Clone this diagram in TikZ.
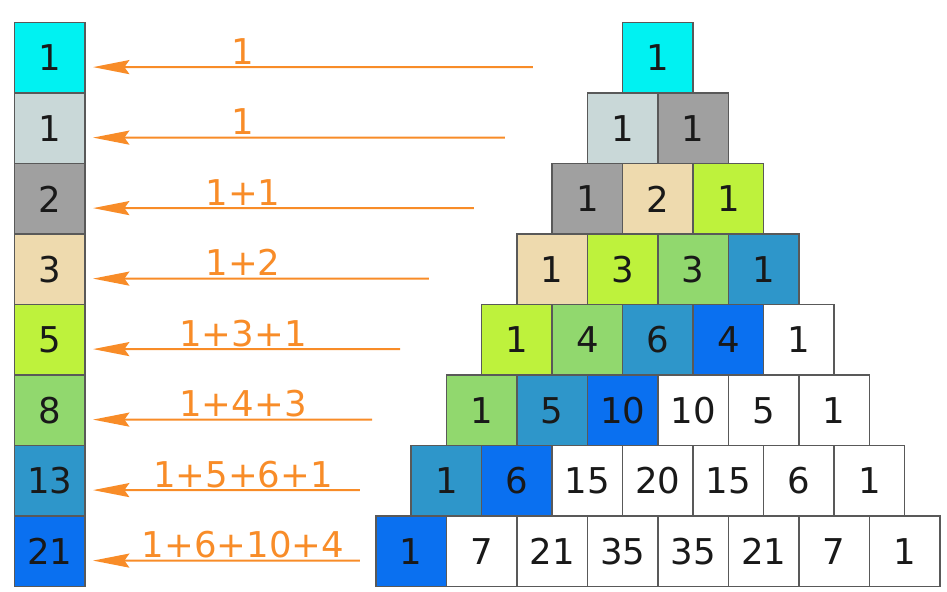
\documentclass[tikz,border=0pt]{standalone}
\usepackage{fontspec}
\setmainfont{DejaVu Sans}
\usepackage{xcolor}
\usepackage{tikz}
\usetikzlibrary{arrows.meta}
\usetikzlibrary{calc}

\definecolor{aqua}{RGB}{0,242,242}
\definecolor{silver}{RGB}{201,216,216}
\definecolor{greybox}{RGB}{160,160,160}
\definecolor{wheat}{RGB}{238,218,174}
\definecolor{lime}{RGB}{190,242,60}
\definecolor{leaf}{RGB}{145,216,110}
\definecolor{steel}{RGB}{46,150,202}
\definecolor{azure}{RGB}{10,112,240}
\definecolor{sumorange}{RGB}{248,140,40}

\begin{document}
\begin{tikzpicture}[x=1.5cm, y=1.5cm,
    cell/.style={draw=black!65, line width=0.9pt, minimum size=1.5cm, inner sep=0pt,
      text=black!90, font=\fontsize{21.5}{24}\selectfont},
    sumarrow/.style={draw=sumorange, line width=1.2pt, -{Stealth[length=22pt, width=8.5pt, inset=3pt]}},
    sumlabel/.style={text=sumorange, anchor=base, inner sep=0pt, font=\fontsize{21.5}{24}\selectfont}]
    \useasboundingbox (0,0) rectangle (13.433,-8.397);

    % Fibonacci column
    \node[cell, fill=aqua] (F1) at (0.709,-0.822) {1};
    \node[cell, fill=silver] (F2) at (0.709,-1.822) {1};
    \node[cell, fill=greybox] (F3) at (0.709,-2.822) {2};
    \node[cell, fill=wheat] (F4) at (0.709,-3.822) {3};
    \node[cell, fill=lime] (F5) at (0.709,-4.822) {5};
    \node[cell, fill=leaf] (F6) at (0.709,-5.822) {8};
    \node[cell, fill=steel] (F7) at (0.709,-6.822) {13};
    \node[cell, fill=azure] (F8) at (0.709,-7.822) {21};

    % Pascal triangle
    \node[cell, fill=aqua] (P11) at (9.333,-0.822) {1};

    \node[cell, fill=silver] (P21) at (8.833,-1.822) {1};
    \node[cell, fill=greybox] (P22) at (9.833,-1.822) {1};

    \node[cell, fill=greybox] (P31) at (8.333,-2.822) {1};
    \node[cell, fill=wheat] (P32) at (9.333,-2.822) {2};
    \node[cell, fill=lime] (P33) at (10.333,-2.822) {1};

    \node[cell, fill=wheat] (P41) at (7.833,-3.822) {1};
    \node[cell, fill=lime] (P42) at (8.833,-3.822) {3};
    \node[cell, fill=leaf] (P43) at (9.833,-3.822) {3};
    \node[cell, fill=steel] (P44) at (10.833,-3.822) {1};

    \node[cell, fill=lime] (P51) at (7.333,-4.822) {1};
    \node[cell, fill=leaf] (P52) at (8.333,-4.822) {4};
    \node[cell, fill=steel] (P53) at (9.333,-4.822) {6};
    \node[cell, fill=azure] (P54) at (10.333,-4.822) {4};
    \node[cell, fill=white] (P55) at (11.333,-4.822) {1};

    \node[cell, fill=leaf] (P61) at (6.833,-5.822) {1};
    \node[cell, fill=steel] (P62) at (7.833,-5.822) {5};
    \node[cell, fill=azure] (P63) at (8.833,-5.822) {10};
    \node[cell, fill=white] (P64) at (9.833,-5.822) {10};
    \node[cell, fill=white] (P65) at (10.833,-5.822) {5};
    \node[cell, fill=white] (P66) at (11.833,-5.822) {1};

    \node[cell, fill=steel] (P71) at (6.333,-6.822) {1};
    \node[cell, fill=azure] (P72) at (7.333,-6.822) {6};
    \node[cell, fill=white] (P73) at (8.333,-6.822) {15};
    \node[cell, fill=white] (P74) at (9.333,-6.822) {20};
    \node[cell, fill=white] (P75) at (10.333,-6.822) {15};
    \node[cell, fill=white] (P76) at (11.333,-6.822) {6};
    \node[cell, fill=white] (P77) at (12.333,-6.822) {1};

    \node[cell, fill=azure] (P81) at (5.833,-7.822) {1};
    \node[cell, fill=white] (P82) at (6.833,-7.822) {7};
    \node[cell, fill=white] (P83) at (7.833,-7.822) {21};
    \node[cell, fill=white] (P84) at (8.833,-7.822) {35};
    \node[cell, fill=white] (P85) at (9.833,-7.822) {35};
    \node[cell, fill=white] (P86) at (10.833,-7.822) {21};
    \node[cell, fill=white] (P87) at (11.833,-7.822) {7};
    \node[cell, fill=white] (P88) at (12.833,-7.822) {1};

    % diagonal sums
    \coordinate (S1) at (7.560,-0.952);
    \coordinate (S2) at (7.163,-1.952);
    \coordinate (S3) at (6.723,-2.952);
    \coordinate (S4) at (6.085,-3.952);
    \coordinate (S5) at (5.674,-4.952);
    \coordinate (S6) at (5.277,-5.952);
    \coordinate (S7) at (5.106,-6.952);
    \coordinate (S8) at (5.106,-7.952);
    \draw [sumarrow] (S1) -- ($(F1.east)+(0.1,-0.13)$);
    \draw [sumarrow] (S2) -- ($(F2.east)+(0.1,-0.13)$);
    \draw [sumarrow] (S3) -- ($(F3.east)+(0.1,-0.13)$);
    \draw [sumarrow] (S4) -- ($(F4.east)+(0.1,-0.13)$);
    \draw [sumarrow] (S5) -- ($(F5.east)+(0.1,-0.13)$);
    \draw [sumarrow] (S6) -- ($(F6.east)+(0.1,-0.13)$);
    \draw [sumarrow] (S7) -- ($(F7.east)+(0.1,-0.13)$);
    \draw [sumarrow] (S8) -- ($(F8.east)+(0.1,-0.13)$);

    \node[sumlabel] (D1) at (3.447,-0.912) {1};
    \node[sumlabel] (D2) at (3.447,-1.912) {1};
    \node[sumlabel] (D3) at (3.447,-2.912) {1+1};
    \node[sumlabel] (D4) at (3.447,-3.912) {1+2};
    \node[sumlabel] (D5) at (3.447,-4.912) {1+3+1};
    \node[sumlabel] (D6) at (3.447,-5.912) {1+4+3};
    \node[sumlabel] (D7) at (3.447,-6.912) {1+5+6+1};
    \node[sumlabel] (D8) at (3.447,-7.912) {1+6+10+4};
  \end{tikzpicture}
\end{document}
